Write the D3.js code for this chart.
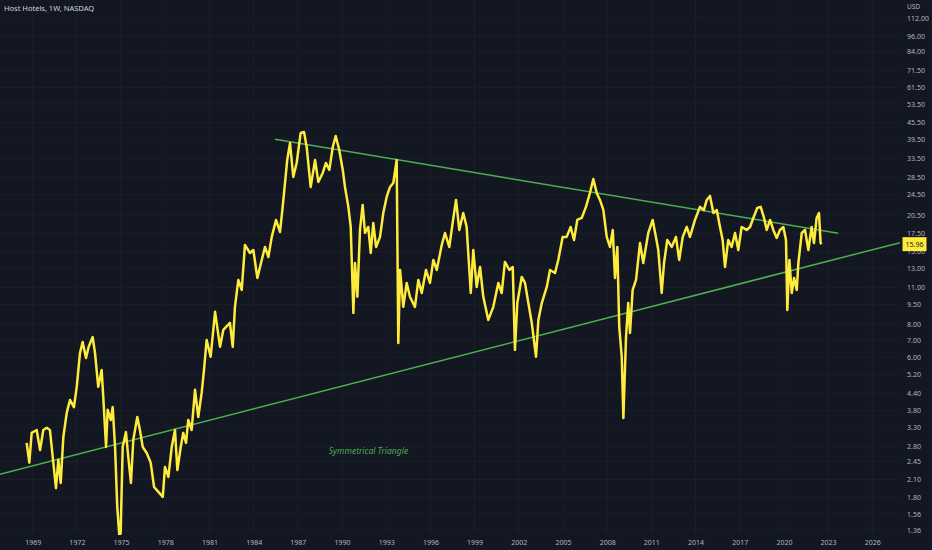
<!DOCTYPE html>
<html lang="en">
	<head>
		<meta charset="utf-8">
		<title>Host Hotels, 1W, NASDAQ</title>
		<script type="text/javascript" src="https://cdn.jsdelivr.net/npm/d3@7"></script>
		<style type="text/css">
			body{
				margin: 0;
				background: #131722;
			}
			svg{
				display: block;
				background: #131722;
				font-family: "Noto Sans", sans-serif;
			}
		</style>
	</head>
	<body>
		<script type="text/javascript">

			// weekly close (decimal year, USD)
			var years = [1968.59,1968.77,1968.93,1969.27,1969.50,1969.72,1969.95,1970.17,1970.36,1970.58,
				1970.74,1970.90,1971.08,1971.31,1971.53,1971.80,1971.99,1972.21,1972.39,1972.62,
				1972.80,1973.07,1973.23,1973.45,1973.68,1973.79,1973.98,1974.09,1974.30,1974.43,
				1974.59,1974.74,1974.88,1974.97,1975.11,1975.33,1975.49,1975.67,1975.83,1976.10,
				1976.28,1976.47,1976.74,1977.01,1977.24,1977.53,1977.83,1977.98,1978.21,1978.44,
				1978.66,1978.82,1979.05,1979.22,1979.41,1979.56,1979.79,1980.02,1980.24,1980.47,
				1980.63,1980.81,1981.08,1981.38,1981.72,1981.94,1982.39,1982.58,1982.73,1982.96,
				1983.19,1983.41,1983.75,1983.98,1984.25,1984.55,1984.77,1985.00,1985.23,1985.52,
				1985.79,1985.97,1986.13,1986.28,1986.47,1986.69,1986.92,1987.19,1987.42,1987.60,
				1987.87,1988.17,1988.39,1988.69,1988.91,1989.14,1989.37,1989.57,1989.81,1990.05,
				1990.20,1990.43,1990.59,1990.77,1990.88,1991.04,1991.22,1991.40,1991.56,1991.78,
				1991.95,1992.12,1992.31,1992.58,1992.80,1993.03,1993.26,1993.48,1993.71,1993.82,
				1993.94,1994.16,1994.39,1994.61,1994.95,1995.18,1995.41,1995.70,1995.97,1996.20,
				1996.43,1996.77,1996.99,1997.28,1997.51,1997.74,1997.96,1998.23,1998.46,1998.74,
				1998.91,1999.14,1999.37,1999.59,1999.93,2000.27,2000.61,2000.84,2001.06,2001.36,
				2001.59,2001.74,2001.90,2002.20,2002.42,2002.65,2002.88,2003.17,2003.33,2003.56,
				2003.90,2004.12,2004.46,2004.68,2004.98,2005.25,2005.52,2005.75,2005.97,2006.27,
				2006.56,2006.83,2007.06,2007.29,2007.51,2007.74,2007.97,2008.19,2008.38,2008.53,
				2008.69,2008.82,2008.99,2009.10,2009.28,2009.43,2009.55,2009.73,2009.96,2010.23,
				2010.45,2010.79,2011.09,2011.31,2011.47,2011.70,2011.86,2012.08,2012.38,2012.67,
				2012.89,2013.13,2013.40,2013.62,2013.96,2014.30,2014.57,2014.76,2014.98,2015.21,
				2015.44,2015.66,2015.84,2016.00,2016.22,2016.45,2016.68,2016.90,2017.13,2017.47,
				2017.70,2017.92,2018.19,2018.42,2018.65,2018.83,2019.06,2019.28,2019.51,2019.73,
				2019.96,2020.14,2020.23,2020.37,2020.53,2020.69,2020.87,2020.98,2021.21,2021.43,
				2021.66,2021.88,2022.04,2022.22,2022.38,2022.49,2022.56];

			var closes = [2.88,2.43,3.14,3.22,2.71,3.22,3.28,3.22,2.55,1.95,
				2.49,2.04,3.03,3.73,4.17,3.92,4.67,6.25,6.87,5.99,
				6.59,7.17,6.25,4.67,5.40,4.28,2.78,3.83,3.51,3.92,
				2.78,1.66,1.30,1.32,2.78,3.16,2.55,2.04,2.96,3.60,
				3.22,2.78,2.64,2.43,1.97,1.89,1.81,2.34,2.15,2.78,
				3.22,2.28,2.78,3.14,2.88,3.51,3.22,4.55,3.60,4.43,
				5.40,6.99,6.05,8.91,6.59,7.62,8.10,6.59,9.30,11.73,
				10.76,15.85,14.79,15.18,11.93,13.93,15.58,14.29,16.99,19.66,
				17.73,22.00,27.04,32.97,38.15,28.49,32.12,41.57,41.94,36.87,
				26.13,32.97,27.28,29.47,32.12,30.25,36.87,40.53,35.93,30.25,
				26.13,22.00,18.51,8.83,13.57,10.14,18.04,22.38,17.57,18.51,
				14.79,19.15,15.58,16.99,20.88,23.98,26.13,27.04,32.97,6.81,
				12.78,9.30,11.43,10.14,9.30,11.73,10.48,12.78,11.43,13.93,
				12.78,15.85,17.57,15.58,19.15,23.36,18.04,20.88,18.51,10.48,
				15.18,11.04,13.11,10.14,8.31,9.30,11.43,10.48,13.69,12.78,
				13.11,6.42,9.61,12.03,11.43,9.61,8.10,6.05,8.31,9.61,
				11.04,12.78,12.45,13.93,16.99,16.99,18.51,16.55,19.66,20.00,
				22.00,24.80,27.99,24.80,23.36,21.43,16.99,15.58,18.04,11.93,
				15.58,7.82,6.05,3.57,7.17,9.61,7.43,10.76,11.73,16.12,
				13.57,17.57,19.66,16.99,15.18,10.48,13.57,16.55,15.58,16.99,
				13.93,16.99,18.51,16.99,19.66,22.00,21.43,23.36,24.18,20.88,
				21.43,18.51,16.55,13.11,16.55,15.58,17.57,15.18,18.51,18.04,
				18.51,20.00,21.80,22.00,20.00,18.04,19.66,18.04,16.84,18.04,
				18.51,16.55,9.06,13.93,10.48,11.93,10.76,13.57,17.57,18.04,
				15.18,18.51,16.12,20.00,20.88,16.12,15.96];

			// trend lines (two anchor points each)
			var upperYears = [1985.45, 2023.69];
			var upperPrices = [39.39, 17.54];
			var lowerYears = [1966.78, 2027.88];
			var lowerPrices = [2.20, 16.17];

			var yearTicks = [1969,1972,1975,1978,1981,1984,1987,1990,1993,1996,1999,2002,2005,2008,2011,2014,2017,2020,2023,2026];
			var priceTicks = [112,96,84,71.5,61.5,53.5,45.5,39.5,33.5,28.5,24.5,20.5,17.5,15,13,11,9.5,8,7,6,5.2,4.4,3.8,3.3,2.8,2.45,2.1,1.8,1.56,1.36];

			var W = 932, H = 550;
			var paneW = 900, paneH = 535;

			var svg = d3.select("body")
						.append("svg")
						.attr("width", W)
						.attr("height", H);

			var x = d3.scaleLinear().domain([1966.78, 2027.88]).range([0, paneW]);
			var y = d3.scaleLog().domain([112, 1.36]).range([18, 530]);

			svg.append("defs").append("clipPath").attr("id", "pane")
				.append("rect").attr("width", paneW).attr("height", paneH);

			//grid
			var grid = svg.append("g").attr("class", "grid");
			grid.selectAll(".vg").data(yearTicks).enter().append("line")
				.attr("x1", function(d) {return x(d);}).attr("x2", function(d) {return x(d);})
				.attr("y1", 0).attr("y2", paneH)
				.attr("stroke", "#1b1f2a").attr("stroke-width", 1);
			grid.selectAll(".hg").data(priceTicks).enter().append("line")
				.attr("x1", 0).attr("x2", paneW)
				.attr("y1", function(d) {return y(d);}).attr("y2", function(d) {return y(d);})
				.attr("stroke", "#1b1f2a").attr("stroke-width", 1);

			var plot = svg.append("g").attr("clip-path", "url(#pane)");

			//trend lines
			var trend = d3.line()
				.x(function(d) {return x(d[0]);})
				.y(function(d) {return y(d[1]);});

			plot.append("path")
				.datum(d3.zip(lowerYears, lowerPrices))
				.attr("d", trend)
				.attr("fill", "none")
				.attr("stroke", "#4caf50")
				.attr("stroke-width", 1.5);

			plot.append("path")
				.datum(d3.zip(upperYears, upperPrices))
				.attr("d", trend)
				.attr("fill", "none")
				.attr("stroke", "#4caf50")
				.attr("stroke-width", 1.5);

			//price line
			plot.append("path")
				.datum(d3.zip(years, closes))
				.attr("d", trend)
				.attr("fill", "none")
				.attr("stroke", "#ffeb3b")
				.attr("stroke-width", 2.5)
				.attr("stroke-linejoin", "round");

			//label
			svg.append("text")
				.attr("x", x(1989.1))
				.attr("y", y(2.62))
				.attr("fill", "#4caf50")
				.attr("font-size", 8.5)
				.attr("font-style", "italic")
				.text("Symmetrical Triangle");

			//axes
			var yAxis = d3.axisRight(y)
				.tickValues(priceTicks)
				.tickFormat(d3.format(".2f"))
				.tickSize(0)
				.tickPadding(7);

			var gy = svg.append("g")
				.attr("transform", "translate(" + paneW + ",0)")
				.call(yAxis);
			gy.select(".domain").remove();
			gy.selectAll("text").attr("fill", "#b2b5be").attr("font-size", 7).attr("font-family", "Noto Sans, sans-serif");

			var xAxis = d3.axisBottom(x)
				.tickValues(yearTicks)
				.tickFormat(d3.format("d"))
				.tickSize(0)
				.tickPadding(5);

			var gx = svg.append("g")
				.attr("transform", "translate(0," + paneH + ")")
				.call(xAxis);
			gx.select(".domain").remove();
			gx.selectAll("text").attr("fill", "#b2b5be").attr("font-size", 7).attr("font-family", "Noto Sans, sans-serif");

			svg.append("text")
				.attr("x", 907).attr("y", 9)
				.attr("fill", "#b2b5be")
				.attr("font-size", 6.5)
				.text("USD");

			//last price tag
			var last = closes[closes.length - 1];
			svg.append("rect")
				.attr("x", paneW + 2.5).attr("y", y(last) - 7)
				.attr("width", 24).attr("height", 14)
				.attr("fill", "#ffeb3b");
			svg.append("text")
				.attr("x", paneW + 14.5).attr("y", y(last) + 2.5)
				.attr("text-anchor", "middle")
				.attr("fill", "#131722")
				.attr("font-size", 7)
				.text(d3.format(".2f")(last));

			//title
			svg.append("text")
				.attr("x", 4).attr("y", 10.5)
				.attr("fill", "#d1d4dc")
				.attr("font-size", 7.5)
				.text("Host Hotels, 1W, NASDAQ");

		</script>
	</body>
</html>
